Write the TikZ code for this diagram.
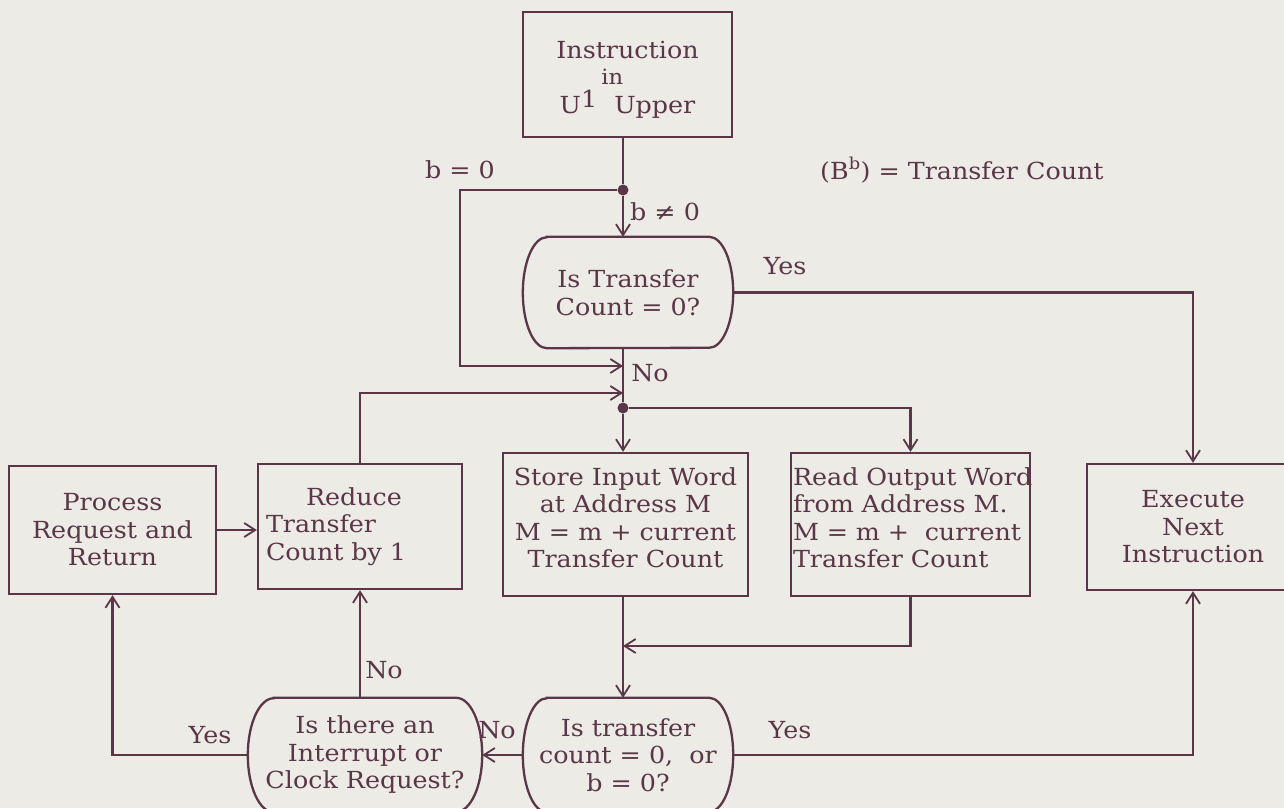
\documentclass[tikz,border=0pt]{standalone}
\usepackage{fontspec}
\setmainfont{DejaVu Serif}[FakeStretch=1.08]
\usetikzlibrary{arrows.meta}
\definecolor{ink}{HTML}{5A3648}
\definecolor{paper}{HTML}{ECEBE6}
\tikzset{
  ln/.style={draw=ink, line width=2.3pt},
  arr/.style={ln, -{Straight Barb[length=11pt,width=14pt,line width=1.8pt]}},
  txt/.style={text=ink, font=\fontsize{23.5}{27.5}\selectfont},
  box/.style={txt, ln, rectangle, inner sep=0pt, align=center},
  dec/.style={txt, rectangle, inner sep=0pt, align=center},
  lbl/.style={txt, inner sep=0pt},
  jdot/.style={circle, fill=ink, inner sep=0pt, minimum size=11pt}
}
% outline of a decision node: flat top and bottom, elliptic ends
\newcommand{\decoutline}[3]{%
  \draw[ln] ([xshift=#2]#1.north west) -- ([xshift=-#2]#1.north east)
    arc[start angle=90,end angle=-90,x radius=#2,y radius=#3]
    -- ([xshift=#2]#1.south west)
    arc[start angle=270,end angle=90,x radius=#2,y radius=#3] -- cycle;}
\lineskiplimit=-100pt
\begin{document}
\begin{tikzpicture}[x=1pt,y=-1pt]
\fill[paper] (0,0) rectangle (1284,808);
\useasboundingbox (0,0) rectangle (1284,808);
\clip (0,0) rectangle (1284,808);

% process boxes and decisions
\node[box, minimum width=209pt, minimum height=125pt] (instr) at (627.5,74.5)
  {\rule{0pt}{28pt}Instruction\\[27pt]U\raisebox{6pt}{1}\kern4pt\rlap{\smash{\raisebox{29pt}{\fontsize{21}{21}\selectfont in}}}\kern13pt Upper};
\node[dec, minimum width=210pt, minimum height=111pt] (isz) at (628,292.5)
  {Is Transfer\\Count = 0?};
\node[box, minimum width=245pt, minimum height=143pt] (store) at (625.5,524.5)
  {Store Input Word\\at Address M\\M = m + current\\Transfer Count\rule[-14pt]{0pt}{0pt}};
\node[box, minimum width=239pt, minimum height=143pt, align=left,
      text width=235pt, inner xsep=2pt] (read) at (910.5,524.5)
  {\mbox{Read Output Word}\\from Address M.\\M = m +\ \ current\\Transfer Count\rule[-14pt]{0pt}{0pt}};
\node[box, minimum width=207pt, minimum height=128pt] (proc) at (112.5,530)
  {Process\\Request and\\Return};
\node[box, minimum width=204pt, minimum height=125pt, align=left, text width=188pt] (reduce) at (360,526.5)
  {\hspace*{40pt}Reduce\\Transfer\\Count by 1};
\node[box, minimum width=212pt, minimum height=126pt] (exec) at (1193,527)
  {Execute\\Next\\Instruction};
\node[dec, minimum width=210pt, minimum height=114pt] (endq) at (628,755)
  {Is transfer\\count = 0,\ \ or\\b = 0?};
\node[dec, minimum width=234pt, minimum height=114pt] (intq) at (365,755)
  {Is there an\\Interrupt or\\Clock Request?};
\decoutline{isz}{24pt}{55.5pt}
\decoutline{endq}{24pt}{57pt}
\decoutline{intq}{26pt}{57pt}

% junctions and bends
\node[jdot] (d1) at (623,190) {};
\node[jdot] (d2) at (623,408) {};
\coordinate (bz) at (460,190);
\coordinate (m1) at (623,366);
\coordinate (m2) at (623,393);
\coordinate (m3) at (623,646);

% connectors
\draw[ln] (instr.south -| d1) -- (d1);
\draw[arr] (d1) -- (d1 |- isz.north);
\draw[arr] (d1) -- (bz) |- (m1);
\draw[ln] (isz.south -| d2) -- (d2);
\draw[arr] (isz.east) -| (exec.north);
\draw[arr] (reduce.north) |- (m2);
\draw[arr] (d2) -- (store.north -| d2);
\draw[arr] (d2) -| (read.north);
\draw[arr] (store.south -| d2) -- (endq.north -| d2);
\draw[arr] (read.south) |- (m3);
\draw[arr] (endq.west) -- (intq.east);
\draw[arr] (endq.east) -| (exec.south);
\draw[arr] (reduce.south |- intq.north) -- (reduce.south);
\draw[arr] (intq.west) -| (proc.south);
\draw[arr] (proc.east) -- (proc.east -| reduce.west);

% branch labels
\node[lbl, anchor=base] (lbz) at (460,178) {b = 0};
\node[lbl, anchor=base west] (lbnz) at (630,220) {b ≠ 0};
\node[lbl, anchor=base] (ly1) at (785,274) {Yes};
\node[lbl, anchor=base] (ln1) at (650,381) {No};
\node[lbl, anchor=base] (ly2) at (790,738) {Yes};
\node[lbl, anchor=base] (ln2) at (497,738) {No};
\node[lbl, anchor=base] (ln3) at (384,678) {No};
\node[lbl, anchor=base] (ly3) at (210,743) {Yes};
\node[lbl, anchor=base west] (note) at (820,179) {(B\textsuperscript{b}) = Transfer Count};
\end{tikzpicture}
\end{document}
